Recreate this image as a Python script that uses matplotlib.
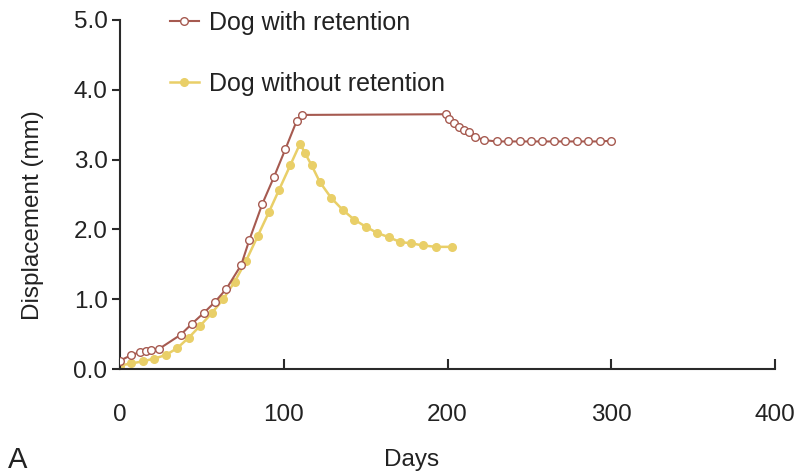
import matplotlib
matplotlib.use("Agg")
import matplotlib.pyplot as plt

plt.rcParams['font.family'] = ['Liberation Sans', 'DejaVu Sans']

# Data
ret_days = [0, 7, 12, 16, 19, 24, 37, 44, 51, 58, 65, 74, 79, 87, 94, 101, 108, 111,
            199, 201, 204, 207, 210, 213, 217, 222, 230, 237, 244, 251, 258, 265,
            272, 279, 286, 293, 300]
ret_vals = [0.12, 0.20, 0.24, 0.26, 0.27, 0.29, 0.49, 0.65, 0.80, 0.96, 1.15, 1.49, 1.85,
            2.37, 2.75, 3.15, 3.56, 3.64,
            3.65, 3.58, 3.52, 3.47, 3.42, 3.39, 3.33, 3.28, 3.26, 3.26, 3.26, 3.26,
            3.26, 3.26, 3.26, 3.26, 3.26, 3.26, 3.27]

noret_days = [0, 7, 14, 21, 28, 35, 42, 49, 56, 63, 70, 77, 84, 91, 97, 104, 110,
              113, 117, 122, 129, 136, 143, 150, 157, 164, 171, 178, 185, 193, 203]
noret_vals = [0.05, 0.08, 0.11, 0.15, 0.20, 0.30, 0.45, 0.62, 0.80, 1.00, 1.25, 1.55,
              1.90, 2.25, 2.56, 2.92, 3.23, 3.09, 2.92, 2.68, 2.45, 2.28, 2.14, 2.04,
              1.95, 1.89, 1.82, 1.80, 1.77, 1.75, 1.75]

x_ticks = [0, 100, 200, 300, 400]
y_ticks = [0.0, 1.0, 2.0, 3.0, 4.0, 5.0]
y_tick_labels = ["0.0", "1.0", "2.0", "3.0", "4.0", "5.0"]

red = "#a65a50"
yellow = "#e9cf68"
txt = '#222222'

fig = plt.figure(figsize=(8.01, 4.76), dpi=100)
ax = fig.add_axes([120/801, 1 - 369/476, (775-120)/801, (369-20)/476])

ax.plot(noret_days, noret_vals, color=yellow, lw=1.8, marker='o', ms=5.5,
        mfc=yellow, mec=yellow, label="Dog without retention", zorder=2)
ax.plot(ret_days, ret_vals, color=red, lw=1.5, marker='o', ms=5.5,
        mfc='white', mec=red, mew=1.0, label="Dog with retention", zorder=3)

ax.set_xlim(0, 400)
ax.set_ylim(0, 5)
ax.set_xticks(x_ticks)
ax.set_xticklabels([str(t) for t in x_ticks])
ax.set_yticks(y_ticks)
ax.set_yticklabels(y_tick_labels)

for s in ['top', 'right']:
    ax.spines[s].set_visible(False)
for s in ['left', 'bottom']:
    ax.spines[s].set_linewidth(1.5)
    ax.spines[s].set_color('#2a2a2a')

ax.tick_params(axis='x', direction='in', length=7, width=1.5, color='#2a2a2a',
               pad=25, labelsize=17.5, labelcolor=txt)
ax.tick_params(axis='y', direction='out', length=6, width=1.5, color='#2a2a2a',
               pad=3, labelsize=17.5, labelcolor=txt)

handles, labels = ax.get_legend_handles_labels()
leg = fig.legend(handles[::-1], labels[::-1], loc='upper left',
                 bbox_to_anchor=(170/801, 1 - 11/476), frameon=False,
                 fontsize=18, handlelength=1.15, handletextpad=0.4,
                 labelspacing=1.48, borderpad=0, borderaxespad=0)
for t in leg.get_texts():
    t.set_color(txt)

fig.text(33/801, 1 - 215/476, "Displacement (mm)", rotation=90, ha='center',
         va='center', fontsize=17.5, color=txt)
fig.text(412/801, 1 - 460/476, "Days", ha='center', va='center', fontsize=17.5,
         color=txt)
fig.text(8/801, 1 - 460/476, "A", ha='left', va='center', fontsize=21,
         color=txt)

fig.savefig("out.png", dpi=100)
